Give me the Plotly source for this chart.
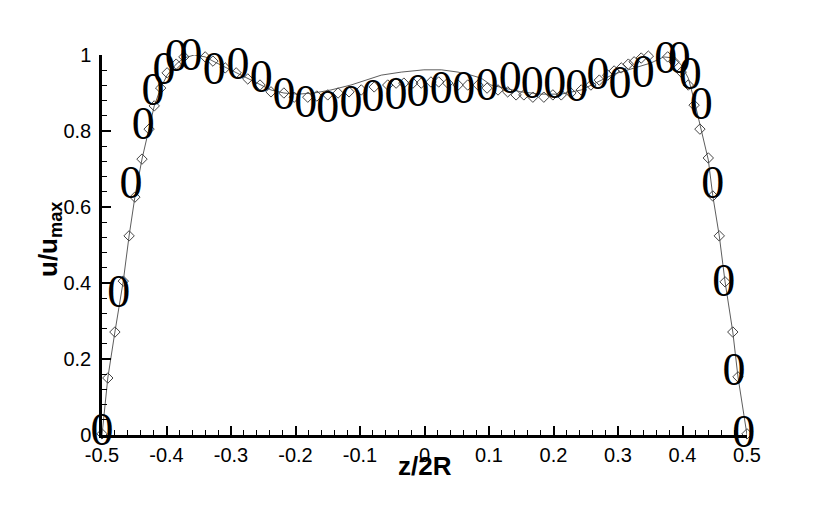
import plotly.graph_objects as go

# solid line profile
line_z = [-0.500, -0.491, -0.480, -0.467, -0.458, -0.449, -0.438, -0.427, -0.419, -0.409,
          -0.399, -0.385, -0.373, -0.357, -0.340, -0.328, -0.309, -0.292, -0.274, -0.255,
          -0.238, -0.218, -0.196, -0.171, -0.145, -0.114, -0.091, -0.067, -0.036, -0.001,
          0.026, 0.052, 0.072, 0.088, 0.103, 0.126, 0.150, 0.181, 0.212, 0.243,
          0.274, 0.294, 0.316, 0.336, 0.351, 0.371, 0.387, 0.398, 0.409, 0.418,
          0.427, 0.440, 0.447, 0.457, 0.466, 0.478, 0.486, 0.500]
line_u = [0.000, 0.150, 0.271, 0.405, 0.524, 0.626, 0.726, 0.805, 0.866, 0.913,
          0.947, 0.976, 0.992, 1.000, 0.995, 0.984, 0.968, 0.953, 0.937, 0.921,
          0.908, 0.900, 0.897, 0.900, 0.908, 0.921, 0.934, 0.947, 0.955, 0.961,
          0.961, 0.955, 0.947, 0.939, 0.921, 0.913, 0.903, 0.897, 0.897, 0.908,
          0.934, 0.950, 0.961, 0.971, 0.979, 0.995, 0.992, 0.974, 0.939, 0.882,
          0.816, 0.724, 0.629, 0.524, 0.403, 0.271, 0.153, 0.000]

# diamond symbols
dia_z = [-0.500, -0.491, -0.480, -0.467, -0.458, -0.449, -0.438, -0.427, -0.419, -0.409,
         -0.399, -0.385, -0.373, -0.357, -0.340, -0.328, -0.309, -0.292, -0.274, -0.255,
         -0.238, -0.218, -0.202, -0.181, -0.167, -0.150, -0.134, -0.117, -0.098, -0.078,
         -0.057, -0.044, -0.032, -0.018, -0.005, 0.010, 0.022, 0.036, 0.052, 0.067,
         0.083, 0.097, 0.114, 0.129, 0.142, 0.154, 0.168, 0.185, 0.199, 0.212,
         0.227, 0.243, 0.258, 0.271, 0.284, 0.294, 0.305, 0.316, 0.325, 0.336,
         0.347, 0.356, 0.367, 0.377, 0.387, 0.398, 0.409, 0.418, 0.427, 0.440,
         0.447, 0.457, 0.466, 0.478, 0.486, 0.500]
dia_u = [0.003, 0.150, 0.271, 0.405, 0.524, 0.626, 0.726, 0.805, 0.866, 0.913,
         0.953, 0.976, 0.995, 1.003, 0.995, 0.984, 0.966, 0.953, 0.937, 0.921,
         0.903, 0.900, 0.889, 0.889, 0.892, 0.895, 0.900, 0.903, 0.908, 0.916,
         0.921, 0.926, 0.926, 0.926, 0.926, 0.929, 0.929, 0.926, 0.921, 0.921,
         0.921, 0.913, 0.908, 0.903, 0.895, 0.895, 0.889, 0.889, 0.895, 0.895,
         0.900, 0.908, 0.921, 0.934, 0.947, 0.958, 0.966, 0.976, 0.982, 0.992,
         0.997, 1.003, 1.003, 0.995, 0.982, 0.955, 0.921, 0.868, 0.805, 0.729,
         0.629, 0.524, 0.403, 0.271, 0.153, 0.003]

# "0" text symbols
sym_z = [-0.500, -0.474, -0.455, -0.436, -0.421, -0.404, -0.385, -0.362, -0.326, -0.289,
         -0.253, -0.218, -0.184, -0.150, -0.114, -0.080, -0.044, -0.010, 0.026, 0.061,
         0.097, 0.133, 0.167, 0.202, 0.236, 0.269, 0.303, 0.339, 0.374, 0.395,
         0.412, 0.429, 0.447, 0.464, 0.480, 0.495]
sym_u = [0.005, 0.366, 0.653, 0.808, 0.900, 0.953, 0.987, 0.992, 0.953, 0.968,
         0.934, 0.887, 0.868, 0.855, 0.868, 0.882, 0.889, 0.897, 0.905, 0.903,
         0.911, 0.929, 0.916, 0.916, 0.908, 0.942, 0.916, 0.947, 0.982, 0.982,
         0.942, 0.863, 0.653, 0.395, 0.163, 0.000]

x_ticks = [-0.5, -0.4, -0.3, -0.2, -0.1, 0, 0.1, 0.2, 0.3, 0.4, 0.5]
x_labels = ['-0.5', '-0.4', '-0.3', '-0.2', '-0.1', '0', '0.1', '0.2', '0.3', '0.4', '0.5']
y_ticks = [0, 0.2, 0.4, 0.6, 0.8, 1]
y_labels = ['0', '0.2', '0.4', '0.6', '0.8', '1']

# plot area in page pixels (page body adds ~8px offset)
L, T, W, H = 94, 47, 645, 380

fig = go.Figure()

fig.add_trace(go.Scatter(x=line_z, y=line_u, mode='lines',
                         line=dict(color='#333333', width=0.8), cliponaxis=False))
fig.add_trace(go.Scatter(x=dia_z, y=dia_u, mode='markers',
                         marker=dict(symbol='diamond-open', size=8, color='#444444',
                                     line=dict(width=1)),
                         cliponaxis=False))
fig.add_trace(go.Scatter(x=sym_z, y=sym_u, mode='text', text=['0'] * len(sym_z),
                         textposition='middle center',
                         textfont=dict(family='Liberation Serif', size=46, color='black'),
                         cliponaxis=False))

axis_font = dict(family='Liberation Sans', size=20, color='black')

fig.update_xaxes(range=[-0.5, 0.5], tickvals=x_ticks, ticktext=x_labels,
                 ticks='inside', ticklen=9, tickwidth=2, tickcolor='black',
                 showline=True, linewidth=2.5, linecolor='black', mirror=False,
                 showgrid=False, zeroline=False, tickfont=axis_font,
                 minor=dict(dtick=0.02, ticks='inside', ticklen=5, tickwidth=1,
                            tickcolor='black', showgrid=False))
fig.update_yaxes(range=[0, 1], tickvals=y_ticks, ticktext=y_labels,
                 ticks='inside', ticklen=9, tickwidth=2, tickcolor='black',
                 showline=True, linewidth=2.5, linecolor='black', mirror=False,
                 showgrid=False, zeroline=False, tickfont=axis_font,
                 ticklabelstandoff=4,
                 minor=dict(dtick=0.04, ticks='inside', ticklen=5, tickwidth=1,
                            tickcolor='black', showgrid=False))

fig.update_layout(
    width=830, height=513,
    margin=dict(l=L, r=830 - L - W, t=T, b=513 - T - H),
    plot_bgcolor='white', paper_bgcolor='white',
    showlegend=False,
    annotations=[
        dict(text='<b>z/2R</b>', x=0.5, y=-31 / H, xref='paper', yref='paper',
             xanchor='center', yanchor='middle', showarrow=False,
             font=dict(family='Liberation Sans', size=26, color='black')),
        dict(text='<b>u/u<sub>max</sub></b>', x=-52 / W, y=195 / H,
             xref='paper', yref='paper', xanchor='center', yanchor='middle',
             textangle=-90, showarrow=False,
             font=dict(family='Liberation Sans', size=26, color='black')),
    ],
)

fig.write_html("out.html")
